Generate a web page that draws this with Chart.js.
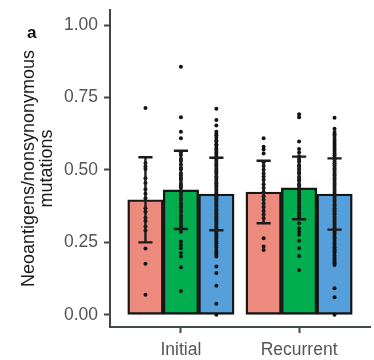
<!DOCTYPE html>
<html>
<head>
<meta charset="utf-8">
<script src="https://cdn.jsdelivr.net/npm/chart.js@4"></script>
<style>
  html, body { margin: 0; padding: 0; background: #fff; }
</style>
</head>
<body>
<canvas id="chart" width="374" height="360"></canvas>
<script>
// categories and y ticks
const categories = ['Initial', 'Recurrent'];
const yTicks = [0, 0.25, 0.5, 0.75, 1.0];

// bar heights (means) and error bar half-widths (sd), per series: [Initial, Recurrent]
const pinkMean = [0.397, 0.424];
const greenMean = [0.431, 0.438];
const blueMean = [0.417, 0.417];
const pinkSd = [0.147, 0.108];
const greenSd = [0.135, 0.108];
const blueSd = [0.125, 0.123];

// individual samples
const pinkInitialDots = [0.714, 0.524, 0.512, 0.503, 0.471, 0.455, 0.433, 0.418, 0.402, 0.368, 0.356, 0.335, 0.324, 0.305, 0.291, 0.229, 0.176, 0.069];
const greenInitialDots = [0.856, 0.682, 0.632, 0.609, 0.561, 0.552, 0.538, 0.531, 0.519, 0.508, 0.502, 0.489, 0.481, 0.472, 0.466, 0.455, 0.447, 0.439, 0.428, 0.421, 0.414, 0.403, 0.397, 0.386, 0.378, 0.371, 0.362, 0.355, 0.343, 0.336, 0.327, 0.318, 0.309, 0.301, 0.287, 0.253, 0.241, 0.230, 0.213, 0.201, 0.164, 0.082];
const blueInitialDots = [0.711, 0.672, 0.653, 0.632, 0.624, 0.619, 0.611, 0.602, 0.598, 0.589, 0.584, 0.576, 0.571, 0.563, 0.557, 0.549, 0.543, 0.536, 0.531, 0.522, 0.517, 0.511, 0.503, 0.498, 0.491, 0.486, 0.477, 0.472, 0.466, 0.458, 0.453, 0.447, 0.441, 0.434, 0.428, 0.421, 0.416, 0.409, 0.402, 0.397, 0.391, 0.383, 0.378, 0.372, 0.364, 0.359, 0.352, 0.347, 0.339, 0.333, 0.326, 0.321, 0.314, 0.308, 0.301, 0.296, 0.288, 0.281, 0.275, 0.268, 0.262, 0.254, 0.247, 0.239, 0.232, 0.224, 0.216, 0.208, 0.201, 0.167, 0.144, 0.100, 0.038, 0.0];
const pinkRecurrentDots = [0.609, 0.580, 0.571, 0.557, 0.527, 0.514, 0.501, 0.488, 0.477, 0.466, 0.451, 0.438, 0.424, 0.409, 0.397, 0.384, 0.372, 0.358, 0.346, 0.333, 0.264, 0.236, 0.224];
const greenRecurrentDots = [0.692, 0.682, 0.598, 0.572, 0.560, 0.547, 0.538, 0.529, 0.517, 0.511, 0.502, 0.493, 0.487, 0.476, 0.468, 0.462, 0.451, 0.446, 0.437, 0.428, 0.421, 0.413, 0.402, 0.396, 0.388, 0.377, 0.371, 0.363, 0.352, 0.346, 0.338, 0.316, 0.299, 0.288, 0.276, 0.256, 0.230, 0.203, 0.155];
const blueRecurrentDots = [0.680, 0.642, 0.631, 0.623, 0.617, 0.608, 0.601, 0.593, 0.586, 0.579, 0.572, 0.566, 0.558, 0.551, 0.543, 0.537, 0.529, 0.523, 0.516, 0.508, 0.502, 0.495, 0.487, 0.481, 0.473, 0.467, 0.459, 0.452, 0.446, 0.438, 0.431, 0.424, 0.417, 0.411, 0.403, 0.396, 0.389, 0.381, 0.376, 0.368, 0.361, 0.353, 0.347, 0.339, 0.332, 0.325, 0.318, 0.311, 0.303, 0.297, 0.289, 0.283, 0.276, 0.268, 0.262, 0.255, 0.248, 0.241, 0.233, 0.226, 0.219, 0.213, 0.205, 0.198, 0.191, 0.184, 0.178, 0.172, 0.092, 0.061, 0.0];

const FONT = '"Liberation Sans", Arial, Helvetica, sans-serif';
const axisColor = '#3f4747';
const dodge = [-0.3, 0, 0.3];   // bar offsets inside a category (x units)
const capWidth = 0.12;          // error bar cap width (x units)

const series = [
  { mean: pinkMean, sd: pinkSd, dots: [pinkInitialDots, pinkRecurrentDots], color: '#ec8a7e' },
  { mean: greenMean, sd: greenSd, dots: [greenInitialDots, greenRecurrentDots], color: '#00ad4f' },
  { mean: blueMean, sd: blueSd, dots: [blueInitialDots, blueRecurrentDots], color: '#55a0da' }
];

function xPos(catIdx, k) { return catIdx + 1 + dodge[k]; }

const datasets = [];
series.forEach((s, k) => {
  datasets.push({
    type: 'bar',
    data: s.mean.map((v, i) => ({ x: xPos(i, k), y: v })),
    backgroundColor: s.color,
    borderColor: '#161616',
    borderWidth: 2.4,
    borderSkipped: false,
    grouped: false,
    barPercentage: 1,
    categoryPercentage: 1,
    order: 3
  });
});
series.forEach((s, k) => {
  const pts = [];
  s.dots.forEach((list, i) => list.forEach(v => pts.push({ x: xPos(i, k), y: v })));
  datasets.push({
    type: 'scatter',
    data: pts,
    pointRadius: 2,
    pointBackgroundColor: '#131313',
    pointBorderWidth: 0,
    order: 1
  });
});

// error bars + panel tag
const errorBars = {
  id: 'errorBars',
  afterDatasetsDraw(chart) {
    const { ctx, scales: { x, y } } = chart;
    ctx.save();
    ctx.strokeStyle = '#1c1c1c';
    ctx.lineWidth = 2.4;
    const half = (x.getPixelForValue(capWidth) - x.getPixelForValue(0)) / 2;
    series.forEach((s, k) => {
      categories.forEach((c, i) => {
        const cx = x.getPixelForValue(xPos(i, k));
        const hi = y.getPixelForValue(s.mean[i] + s.sd[i]);
        const lo = y.getPixelForValue(s.mean[i] - s.sd[i]);
        ctx.beginPath();
        ctx.moveTo(cx, hi); ctx.lineTo(cx, lo);
        ctx.moveTo(cx - half, hi); ctx.lineTo(cx + half, hi);
        ctx.moveTo(cx - half, lo); ctx.lineTo(cx + half, lo);
        ctx.stroke();
      });
    });
    ctx.restore();
  },
  afterDraw(chart) {
    const ctx = chart.ctx;
    ctx.save();
    ctx.fillStyle = '#111';
    ctx.font = 'bold 17px ' + FONT;
    ctx.textBaseline = 'alphabetic';
    ctx.fillText('a', 27, 38);
    ctx.restore();
  }
};

new Chart(document.getElementById('chart'), {
  type: 'bar',
  data: { datasets: datasets },
  plugins: [errorBars],
  options: {
    responsive: false,
    animation: false,
    layout: { padding: { top: 10, left: 0, right: 0, bottom: 0 } },
    plugins: { legend: { display: false }, tooltip: { enabled: false } },
    scales: {
      x: {
        type: 'linear',
        offset: false,
        min: 0.4,
        max: 2.6,
        afterBuildTicks: s => { s.ticks = categories.map((c, i) => ({ value: i + 1 })); },
        afterFit: s => { s.height = 33; s.paddingLeft = 0; s.paddingRight = 0; },
        grid: { offset: false, drawOnChartArea: false, drawTicks: true, tickLength: 6, tickColor: axisColor, tickWidth: 2 },
        border: { display: true, color: axisColor, width: 2 },
        ticks: {
          color: '#555',
          font: { family: FONT, size: 17.5 },
          padding: 7,
          maxRotation: 0,
          autoSkip: false,
          callback: v => categories[Math.round(v) - 1] || ''
        }
      },
      y: {
        min: -0.042,
        max: 1.052,
        afterBuildTicks: s => { s.ticks = yTicks.map(v => ({ value: v })); },
        afterFit: s => { s.width = 110; s.paddingTop = 0; s.paddingBottom = 0; },
        grid: { drawOnChartArea: false, drawTicks: true, tickLength: 6, tickColor: axisColor, tickWidth: 2 },
        border: { display: true, color: axisColor, width: 2 },
        ticks: {
          color: '#555',
          font: { family: FONT, size: 17.5 },
          padding: 6,
          callback: v => v.toFixed(2)
        },
        title: {
          display: true,
          text: ['Neoantigens/nonsynonymous', 'mutations'],
          color: '#1a1a1a',
          font: { family: FONT, size: 18, lineHeight: 1.0 },
          padding: { top: 20, bottom: 0 }
        }
      }
    }
  }
});
</script>
</body>
</html>
